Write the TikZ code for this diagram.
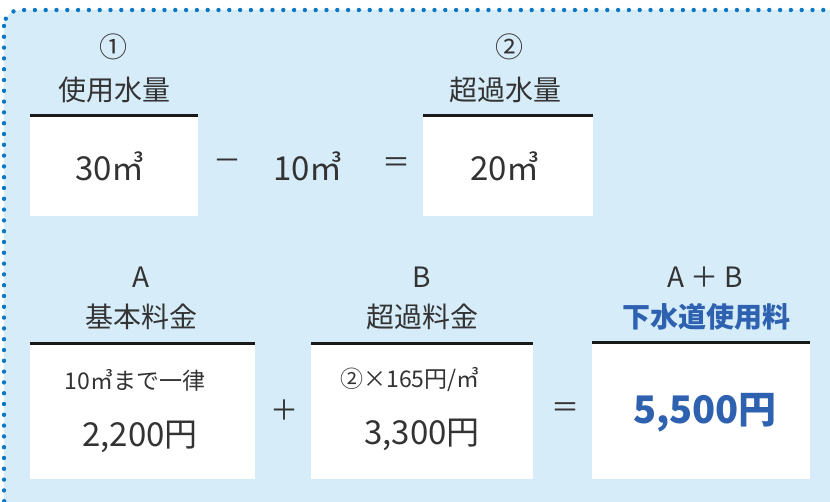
\documentclass[tikz,border=0pt]{standalone}
\usepackage{fontspec}
\setmainfont{Noto Sans CJK JP}
\definecolor{panelFill}{HTML}{D6ECF9}
\definecolor{dotBlue}{HTML}{0B78C6}
\definecolor{textGray}{HTML}{333333}
\definecolor{totalBlue}{HTML}{2E62B0}
\tikzstyle{valueBox}=[fill=white,inner sep=0pt]
\tikzstyle{barLine}=[black!90,line width=3.2pt]
\tikzstyle{headLabel}=[text=textGray,font=\fontsize{28}{28}\selectfont,inner sep=0pt]
\tikzstyle{nameLabel}=[text=textGray,font=\fontsize{28}{28}\selectfont,inner sep=0pt]
\tikzstyle{bigValue}=[text=textGray,font=\fontsize{33}{33}\selectfont,inner sep=0pt]
\tikzstyle{smallValue}=[text=textGray,font=\fontsize{23}{23}\selectfont,inner sep=0pt]
\tikzstyle{opSign}=[text=textGray,font=\fontsize{28}{28}\selectfont,inner sep=0pt]

\begin{document}
\begin{tikzpicture}[x=1pt,y=-1pt]
        \useasboundingbox (0,0) rectangle (830,501);
        \begin{scope}
        \clip (0,0) rectangle (830,501);
        \fill[panelFill,rounded corners=16pt] (4,10) rectangle (845,515);
        \draw[dotBlue,line width=4.4pt,line cap=round,dash pattern=on 0pt off 10.8pt,rounded corners=16pt]
                (4,10) rectangle (845,515);
        \end{scope}
        % first row
        \node[valueBox,minimum width=168pt,minimum height=100pt] (usage) at (114,166) {};
        \node[valueBox,minimum width=170pt,minimum height=100pt] (excess) at (508,166) {};
        \foreach \b in {usage,excess}
                \draw[barLine] (\b.north west) -- (\b.north east);
        \node[headLabel] (numOne) at (113,47) {①};
        \node[nameLabel] (usageName) at (114,90) {使用水量};
        \node[headLabel] (numTwo) at (509,47) {②};
        \node[nameLabel] (excessName) at (505,90) {超過水量};
        \node[bigValue] (usageVal) at (110,166) {30㎥};
        \node[opSign] (minusSign) at (227,165) {－};
        \node[bigValue] (baseVol) at (308,166) {10㎥};
        \node[opSign] (eqOne) at (396,165) {＝};
        \node[bigValue] (excessVal) at (505,166) {20㎥};
        % second row
        \node[valueBox,minimum width=225pt,minimum height=135pt] (basic) at (142.5,411.5) {};
        \node[valueBox,minimum width=222pt,minimum height=135pt] (extra) at (422,411.5) {};
        \node[valueBox,minimum width=218pt,minimum height=136pt] (total) at (701,411) {};
        \foreach \b in {basic,extra,total}
                \draw[barLine] (\b.north west) -- (\b.north east);
        \node[headLabel] (labA) at (141,277) {A};
        \node[nameLabel] (basicName) at (141,317) {基本料金};
        \node[headLabel] (labB) at (422,277) {B};
        \node[nameLabel] (extraName) at (422,317) {超過料金};
        \node[headLabel] (labAB) at (705,277) {A ＋ B};
        \node[nameLabel,text=totalBlue,font=\fontsize{28}{28}\selectfont\bfseries] (totalName) at (706,317) {下水道使用料};
        \node[smallValue] (basicNote) at (135,380) {10㎥まで一律};
        \node[bigValue] (basicVal) at (140,437) {2,200円};
        \node[smallValue] (extraNote) at (410,380) {②×165円/㎥};
        \node[bigValue] (extraVal) at (422,435) {3,300円};
        \node[opSign] (plusSign) at (284,410) {＋};
        \node[opSign] (eqTwo) at (565,410) {＝};
        \node[bigValue,text=totalBlue,font=\fontsize{38}{38}\selectfont\bfseries] (totalVal) at (705,413) {5,500円};
\end{tikzpicture}
\end{document}
